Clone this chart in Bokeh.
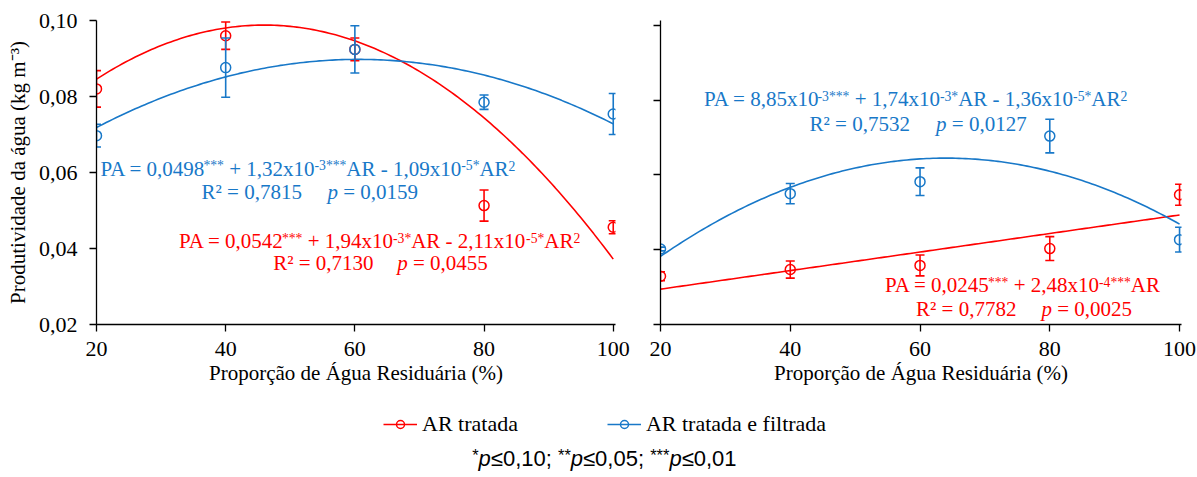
import numpy as np
from bokeh.plotting import figure
from bokeh.layouts import column, row
from bokeh.models import ColumnDataSource, FixedTicker, Legend, LegendItem
from bokeh.core.properties import value, field
from bokeh.embed import file_html
from bokeh.resources import INLINE

# ---------------- data ----------------
ar = [20, 40, 60, 80, 100]
x_ticks = [20, 40, 60, 80, 100]
x_tick_labels = ["20", "40", "60", "80", "100"]
y_ticks = [0.02, 0.04, 0.06, 0.08, 0.10]
y_tick_labels = ["0,02", "0,04", "0,06", "0,08", "0,10"]

series_names = ["AR tratada", "AR tratada e filtrada"]

# left panel
left_tratada = [0.0820, 0.0960, 0.0924, 0.0513, 0.0456]
left_tratada_err = [0.0048, 0.0036, 0.0030, 0.0041, 0.0017]
left_filtrada = [0.0697, 0.0876, 0.0924, 0.0785, 0.0754]
left_filtrada_err = [0.0030, 0.0078, 0.0062, 0.0019, 0.0054]
# right panel
right_tratada = [0.0329, 0.0347, 0.0358, 0.0403, 0.0547]
right_tratada_err = [0.0012, 0.0023, 0.0028, 0.0032, 0.0028]
right_filtrada = [0.0402, 0.0550, 0.0582, 0.0704, 0.0427]
right_filtrada_err = [0.0005, 0.0027, 0.0037, 0.0045, 0.0033]

# regression coefficients printed on the chart (c0, c1, c2)
left_tratada_coef = [0.0542, 1.94e-3, -2.11e-5]
left_filtrada_coef = [0.0498, 1.32e-3, -1.09e-5]
right_tratada_coef = [0.0245, 2.48e-4, 0.0]
right_filtrada_coef = [8.85e-3, 1.74e-3, -1.36e-5]

# ---------------- styles / layout ----------------
RED = "#FF0000"
BLUE = "#1878C8"
SERIF = "Liberation Serif"
SANS = "Liberation Sans"

TIMES = {' ': 250, '*': 500, '+': 564, ',': 250, '-': 333, '.': 250, '=': 564,
         'A': 722, 'P': 556, 'R': 667, 'x': 500, '\u00b2': 300, 'p': 500}
ARIAL = {' ': 278, '*': 389, 'p': 556, '\u2264': 549, ',': 278, ';': 278}
BASE_CORR = 0.38  # baseline correction (fraction of font size)

FIG_H = 396
BOTTOM = 72
PANELS = {
    "L": dict(width=630, left=96, right=15, top=20, xr=(20, 100.35), yr=(0.02, 0.10)),
    "R": dict(width=567, left=30, right=16, top=15, xr=(20, 100.3), yr=(0.02, 0.02 + 309 / 3800)),
}
PAGE_X0 = {"L": 0, "R": 630}


def geom(key):
    g = PANELS[key]
    fw = g["width"] - g["left"] - g["right"]
    ppu = fw / (g["xr"][1] - g["xr"][0])
    fh = FIG_H - g["top"] - BOTTOM
    ppy = fh / (g["yr"][1] - g["yr"][0])
    fl = PAGE_X0[key] + g["left"]
    ft = g["top"]
    return fl, ft, ppu, ppy


def to_data(key, px, py):
    fl, ft, ppu, ppy = geom(key)
    g = PANELS[key]
    return g["xr"][0] + (px - fl) / ppu, g["yr"][1] - (py - ft) / ppy


def pieces(segments, size, widths, default_w, sup=0.65, raise_px=6.0, first_adj=0.0):
    out = dict(text=[], xo=[], fs=[], st=[], rp=[])
    cur = 0.0
    for i, (s, kind) in enumerate(segments):
        sz = size * sup if kind == 's' else size
        lead = len(s) - len(s.lstrip(' '))
        trail = len(s) - len(s.rstrip(' '))
        core = s.strip(' ')
        cur += lead * widths[' '] * sz / 1000
        if core:
            out["text"].append(core)
            out["xo"].append(cur)
            out["fs"].append(f"{sz:.1f}px")
            out["st"].append("italic" if kind == 'i' else "normal")
            out["rp"].append((raise_px if kind == 's' else 0.0) + BASE_CORR * sz)
            cur += sum(widths.get(c, default_w) for c in core) * sz / 1000
            cur += trail * widths[' '] * sz / 1000
            if i == 0:
                cur += first_adj
    return out


def draw_text(p, key, segments, px, py, color, size=21):
    fl, ft, ppu, ppy = geom(key)
    adj = -4.0 if segments[0][0].startswith("PA") else 0.0
    pc = pieces(segments, size, TIMES, 500, sup=0.65, raise_px=5.5, first_adj=adj)
    x0, y0 = to_data(key, px, py)
    src = ColumnDataSource(dict(
        x=[x0] * len(pc["text"]),
        y=[y0 + r / ppy for r in pc["rp"]],
        text=pc["text"], xo=pc["xo"], fs=pc["fs"], st=pc["st"]))
    p.text(x="x", y="y", text="text", x_offset="xo", source=src,
           text_font=value(SERIF), text_font_size=field("fs"), text_font_style=field("st"),
           text_color=color, text_align="left", text_baseline="alphabetic")


def make_panel(key, series, show_ylabels):
    g = PANELS[key]
    p = figure(width=g["width"], height=FIG_H, x_range=g["xr"], y_range=g["yr"],
               output_backend="svg", toolbar_location=None,
               min_border_left=g["left"], min_border_right=g["right"],
               min_border_top=g["top"], min_border_bottom=BOTTOM,
               background_fill_color="white", border_fill_color="white")
    p.outline_line_color = None
    p.grid.visible = False
    p.xaxis.ticker = FixedTicker(ticks=x_ticks)
    p.xaxis.major_label_overrides = {t: l for t, l in zip(x_ticks, x_tick_labels)}
    p.yaxis.ticker = FixedTicker(ticks=y_ticks)
    p.yaxis.major_label_overrides = {t: l for t, l in zip(y_ticks, y_tick_labels)}
    for ax in (p.xaxis[0], p.yaxis[0]):
        ax.axis_line_color = "black"
        ax.axis_line_width = 1.3
        ax.major_tick_line_color = "black"
        ax.major_tick_line_width = 1.3
        ax.major_tick_in = 0
        ax.major_tick_out = 7
        ax.minor_tick_in = 0
        ax.minor_tick_out = 0
        ax.major_label_text_font = SERIF
        ax.major_label_text_font_size = "22px"
        ax.major_label_text_color = "black"
        ax.axis_label_text_font = SERIF
        ax.axis_label_text_font_size = "21px"
        ax.axis_label_text_font_style = "normal"
        ax.axis_label_text_color = "black"
    p.xaxis.axis_label = "Proporção de Água Residuária (%)"
    p.xaxis.major_label_standoff = 10
    p.xaxis.axis_label_standoff = 2
    if show_ylabels:
        p.yaxis.axis_label = "Produtividade da água (kg m\u207b\u00b3)"
        p.yaxis.major_label_standoff = 12
        p.yaxis.axis_label_standoff = 6
    else:
        p.yaxis.major_label_text_font_size = "2px"
        p.yaxis.major_label_text_color = None
        p.yaxis.major_label_standoff = 0

    xs = np.linspace(20, 100, 161)
    for vals, errs, coef, color in series:
        c0, c1, c2 = coef
        p.line(xs, c0 + c1 * xs + c2 * xs ** 2, line_color=color, line_width=1.6)
    for vals, errs, coef, color in series:
        v = np.array(vals)
        e = np.array(errs)
        src = ColumnDataSource(dict(x=ar, y=v, lo=v - e, hi=v + e))
        p.segment(x0="x", y0="lo", x1="x", y1="hi", source=src, line_color=color, line_width=1.6)
        p.scatter(x="x", y="lo", source=src, marker="dash", size=9, line_color=color, line_width=1.6)
        p.scatter(x="x", y="hi", source=src, marker="dash", size=9, line_color=color, line_width=1.6)
        p.scatter(x="x", y="y", source=src, marker="circle", size=10, fill_color=None,
                  line_color=color, line_width=1.5)
    return p


p1 = make_panel("L", [(left_tratada, left_tratada_err, left_tratada_coef, RED),
                      (left_filtrada, left_filtrada_err, left_filtrada_coef, BLUE)], True)
p2 = make_panel("R", [(right_tratada, right_tratada_err, right_tratada_coef, RED),
                      (right_filtrada, right_filtrada_err, right_filtrada_coef, BLUE)], False)

# equations (positions in page pixels: left edge, baseline)
draw_text(p1, "L", [("PA = 0,0498", 'n'), ("***", 's'), (" + 1,32x10", 'n'), ("-3***", 's'),
                    ("AR - 1,09x10", 'n'), ("-5*", 's'), ("AR", 'n'), ("2", 's')], 100, 176, BLUE)
draw_text(p1, "L", [("R\u00b2 = 0,7815", 'n')], 201, 199.5, BLUE)
draw_text(p1, "L", [("p", 'i'), (" = 0,0159", 'n')], 327, 199.5, BLUE)
draw_text(p1, "L", [("PA = 0,0542", 'n'), ("***", 's'), (" + 1,94x10", 'n'), ("-3*", 's'),
                    ("AR - 2,11x10", 'n'), ("-5*", 's'), ("AR", 'n'), ("2", 's')], 178.5, 248.3, RED)
draw_text(p1, "L", [("R\u00b2 = 0,7130", 'n')], 272.7, 270.7, RED)
draw_text(p1, "L", [("p", 'i'), (" = 0,0455", 'n')], 396.7, 270.7, RED)

draw_text(p2, "R", [("PA = 8,85x10", 'n'), ("-3***", 's'), (" + 1,74x10", 'n'), ("-3*", 's'),
                    ("AR - 1,36x10", 'n'), ("-5*", 's'), ("AR", 'n'), ("2", 's')], 703.6, 102.8, BLUE)
draw_text(p2, "R", [("R\u00b2 = 0,7532", 'n')], 809, 128.2, BLUE)
draw_text(p2, "R", [("p", 'i'), (" = 0,0127", 'n')], 935.6, 128.2, BLUE)
draw_text(p2, "R", [("PA = 0,0245", 'n'), ("***", 's'), (" + 2,48x10", 'n'), ("-4***", 's'),
                    ("AR", 'n')], 884.5, 292.3, RED)
draw_text(p2, "R", [("R\u00b2 = 0,7782", 'n')], 915.5, 316.5, RED)
draw_text(p2, "R", [("p", 'i'), (" = 0,0025", 'n')], 1041, 316.5, RED)

# ---------------- legend + footnote ----------------
LEG_W, LEG_H = 1197, 477 - FIG_H
lf = figure(width=LEG_W, height=LEG_H, x_range=(0, LEG_W), y_range=(0, LEG_H),
            output_backend="svg", toolbar_location=None, min_border=0,
            x_axis_location=None, y_axis_location=None,
            background_fill_color="white", border_fill_color="white")
lf.outline_line_color = None
lf.grid.visible = False
items = []
for name, color in zip(series_names, [RED, BLUE]):
    dummy = ColumnDataSource(dict(x=np.array([np.nan]), y=np.array([np.nan])))
    rl = lf.line(x="x", y="y", source=dummy, line_color=color, line_width=1.6)
    rs = lf.scatter(x="x", y="y", source=dummy, marker="circle", size=10, fill_color=None,
                    line_color=color, line_width=1.5)
    items.append(LegendItem(label=name, renderers=[rl, rs]))
leg = Legend(items=items, orientation="horizontal", location=(383, 40), spacing=89,
             padding=0, margin=0, border_line_alpha=0, background_fill_alpha=0,
             glyph_width=34, glyph_height=20, label_standoff=5, label_height=20,
             label_text_font=SERIF, label_text_font_size="22px", label_text_color="black")
lf.add_layout(leg)

foot = pieces([("*", 's'), ("p", 'i'), ("\u22640,10; ", 'n'), ("**", 's'), ("p", 'i'),
               ("\u22640,05; ", 'n'), ("***", 's'), ("p", 'i'), ("\u22640,01", 'n')],
              22, ARIAL, 556, sup=0.75, raise_px=6)
fx0, fy0 = 471.7, 477 - 466.7
fsrc = ColumnDataSource(dict(x=[fx0] * len(foot["text"]), y=[fy0 + r for r in foot["rp"]],
                             text=foot["text"], xo=foot["xo"], fs=foot["fs"], st=foot["st"]))
lf.text(x="x", y="y", text="text", x_offset="xo", source=fsrc, text_font=value(SANS),
        text_font_size=field("fs"), text_font_style=field("st"), text_color="black",
        text_align="left", text_baseline="alphabetic")

layout = column(row(p1, p2), lf)
open("out.html", "w").write(file_html(layout, INLINE))
